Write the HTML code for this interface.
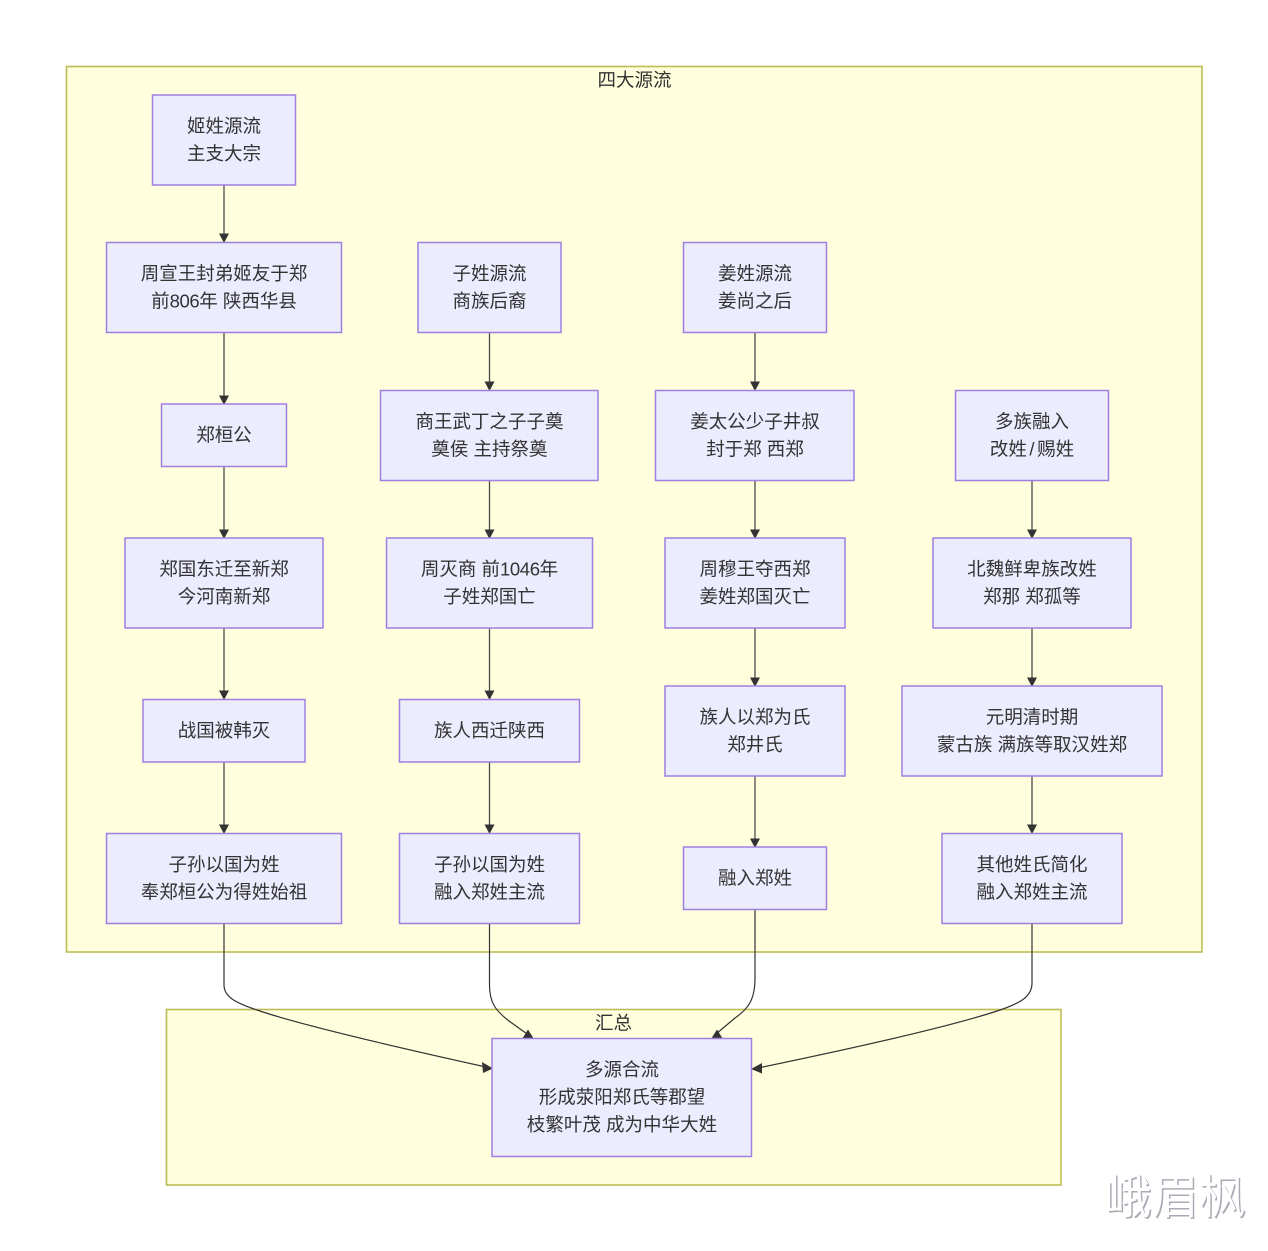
<!DOCTYPE html>
<html><head><meta charset="utf-8"><style>
html,body{margin:0;padding:0;background:#fff}
svg{display:block;filter:blur(.3px)}
text{font-family:"Liberation Sans","Noto Sans CJK SC",sans-serif;font-size:18.5px;fill:#333;text-anchor:middle}
.c{fill:#ffffde;stroke:#bcbc55;stroke-width:1.6}
.n{fill:#ececff;stroke:#9f7fe2;stroke-width:1.5}
.e{fill:none;stroke:#333;stroke-width:1.2}
.v{fill:none;stroke:#4a4a4a;stroke-width:1.3}
.a{fill:#333}
.d{letter-spacing:-.4px}
</style></head><body>
<svg width="1268" height="1251" viewBox="0 0 1268 1251" xmlns="http://www.w3.org/2000/svg">
<rect x="66.500" y="66.500" width="1135.500" height="885.500" class="c"/>
<rect x="166.500" y="1009.500" width="894.500" height="175.500" class="c"/>
<g transform="translate(0,.7)">
<text x="634.500" y="86">四大源流</text>
<text x="613.500" y="1029">汇总</text>
</g>

<g>
<path class="v" d="M224 185V236M224 333V398M224 467V532M224 628V693M224 762V827"/>
<path class="v" d="M489.500 333V384M489.500 481V532M489.500 628V693M489.500 762V827"/>
<path class="v" d="M755 333V384M755 481V532M755 628V680M755 776V841"/>
<path class="v" d="M1032 481V532M1032 628V680M1032 776V827"/>
<path class="e" d="M224 923V985C224 997 236 1003 257 1010C300 1025 400 1048 486 1067"/>
<path class="e" d="M489.500 923V985C489.500 1003 496 1011 509 1021L530 1036"/>
<path class="e" d="M755 909V978C755 1000 748 1009 735 1018L716 1034"/>
<path class="e" d="M1032 923V983C1032 997 1020 1003 1000 1010C950 1027 840 1051 758 1068"/>
<path class="a" d="M219 233.500H229L224 243ZM219 395.500H229L224 405ZM219 529.500H229L224 539ZM219 690.500H229L224 700ZM219 824.500H229L224 834Z"/>
<path class="a" d="M484.500 381.500H494.500L489.500 391ZM484.500 529.500H494.500L489.500 539ZM484.500 690.500H494.500L489.500 700ZM484.500 824.500H494.500L489.500 834Z"/>
<path class="a" d="M750 381.500H760L755 391ZM750 529.500H760L755 539ZM750 677.500H760L755 687ZM750 838.500H760L755 848Z"/>
<path class="a" d="M1027 529.500H1037L1032 539ZM1027 677.500H1037L1032 687ZM1027 824.500H1037L1032 834Z"/>
<path class="a" d="M482 1062L493 1068.500L483 1073ZM522 1039L534 1039L528 1029.500ZM723 1039L711 1039L717 1029.500ZM762 1063L751 1069L762 1073.500Z"/>
</g>

<rect class="n" x="152.500" y="95" width="143" height="90"/>
<rect class="n" x="106.500" y="242.500" width="235" height="90"/>
<rect class="n" x="161.500" y="404" width="125" height="62.500"/>
<rect class="n" x="125" y="538" width="198" height="90"/>
<rect class="n" x="143" y="699.500" width="162" height="62.500"/>
<rect class="n" x="106.500" y="833.500" width="235" height="90"/>
<rect class="n" x="418" y="242.500" width="143" height="90"/>
<rect class="n" x="380.500" y="390.500" width="217.500" height="90"/>
<rect class="n" x="386.500" y="538" width="206" height="90"/>
<rect class="n" x="399.500" y="699.500" width="180" height="62.500"/>
<rect class="n" x="399.500" y="833.500" width="180" height="90"/>
<rect class="n" x="683.500" y="242.500" width="143" height="90"/>
<rect class="n" x="655.500" y="390.500" width="198.500" height="90"/>
<rect class="n" x="665" y="538" width="180" height="90"/>
<rect class="n" x="665" y="686" width="180" height="90"/>
<rect class="n" x="683.500" y="847" width="143" height="62.500"/>
<rect class="n" x="955.500" y="390.500" width="153" height="90"/>
<rect class="n" x="933" y="538" width="198" height="90"/>
<rect class="n" x="902" y="686" width="260" height="90"/>
<rect class="n" x="942" y="833.500" width="180" height="90"/>
<rect class="n" x="492" y="1038.500" width="259.500" height="118"/>

<g transform="translate(0,.7)">
<text x="224" y="132">姬姓源流</text><text x="224" y="159.500">主支大宗</text>
<text x="224" y="279.500">周宣王封弟姬友于郑</text><text x="224" y="307">前<tspan class="d">806</tspan>年 陕西华县</text>
<text x="224" y="441">郑桓公</text>
<text x="224" y="575">郑国东迁至新郑</text><text x="224" y="602.500">今河南新郑</text>
<text x="224" y="736.500">战国被韩灭</text>
<text x="224" y="870.500">子孙以国为姓</text><text x="224" y="898">奉郑桓公为得姓始祖</text>
<text x="489.500" y="279.500">子姓源流</text><text x="489.500" y="307">商族后裔</text>
<text x="489.500" y="427.500">商王武丁之子子奠</text><text x="489.500" y="455">奠侯 主持祭奠</text>
<text x="489.500" y="575">周灭商 前<tspan class="d">1046</tspan>年</text><text x="489.500" y="602.500">子姓郑国亡</text>
<text x="489.500" y="736.500">族人西迁陕西</text>
<text x="489.500" y="870.500">子孙以国为姓</text><text x="489.500" y="898">融入郑姓主流</text>
<text x="755" y="279.500">姜姓源流</text><text x="755" y="307">姜尚之后</text>
<text x="755" y="427.500">姜太公少子井叔</text><text x="755" y="455">封于郑 西郑</text>
<text x="755" y="575">周穆王夺西郑</text><text x="755" y="602.500">姜姓郑国灭亡</text>
<text x="755" y="723">族人以郑为氏</text><text x="755" y="750.500">郑井氏</text>
<text x="755" y="884">融入郑姓</text>
<text x="1032" y="427.500">多族融入</text><text x="1032" y="455">改姓<tspan dx="2.500">/</tspan><tspan dx="2.500">赐姓</tspan></text>
<text x="1032" y="575">北魏鲜卑族改姓</text><text x="1032" y="602.500">郑那 郑孤等</text>
<text x="1032" y="723">元明清时期</text><text x="1032" y="750.500">蒙古族 满族等取汉姓郑</text>
<text x="1032" y="870.500">其他姓氏简化</text><text x="1032" y="898">融入郑姓主流</text>
<text x="622" y="1075.500">多源合流</text><text x="622" y="1103">形成荥阳郑氏等郡望</text><text x="622" y="1130.500">枝繁叶茂 成为中华大姓</text>
</g>

<text x="1176.500" y="1215" style="font-size:47px;fill:#aaaab4">峨眉枫</text>
<text x="1175" y="1213.500" style="font-size:47px;fill:#fff">峨眉枫</text>
</svg>
</body></html>
